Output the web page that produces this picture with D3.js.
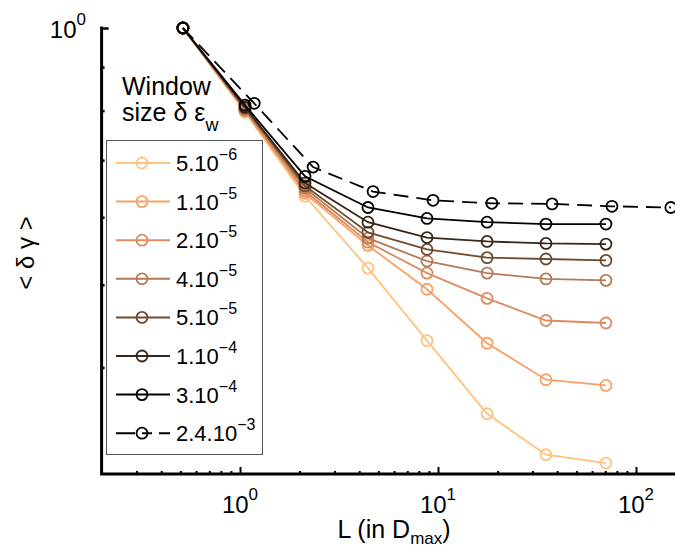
<!DOCTYPE html>
<html><head><meta charset="utf-8">
<script src="https://cdn.jsdelivr.net/npm/d3@7"></script>
<style>body{margin:0;background:#fff;} svg{display:block;} text{font-family:"Liberation Sans",Arial,sans-serif;fill:#000;}</style>
</head><body>
<svg id="c" width="675" height="548"></svg>
<script>
// ---- data ----
const xSolid = [0.515, 1.06, 2.13, 4.43, 8.8, 17.7, 35.1, 70.5];
const xDashed = [0.515, 1.18, 2.34, 4.70, 9.44, 18.7, 37.7, 75.6, 150];
const seriesNames = ["5.10|−6","1.10|−5","2.10|−5","4.10|−5","5.10|−5","1.10|−4","3.10|−4","2.4.10|−3"];
const seriesColors = ["#FEC27E","#F9A064","#DC8C5E","#B27A56","#6F4A30","#3A2618","#000000","#000000"];
const seriesDashed = [false,false,false,false,false,false,false,true];
const v5e6   = [1, 0.797, 0.635, 0.523, 0.430, 0.353, 0.316, 0.309];
const v1e5   = [1, 0.799, 0.640, 0.556, 0.494, 0.427, 0.387, 0.381];
const v2e5   = [1, 0.801, 0.644, 0.561, 0.516, 0.482, 0.454, 0.451];
const v4e5   = [1, 0.803, 0.649, 0.567, 0.533, 0.516, 0.508, 0.506];
const v5e5   = [1, 0.806, 0.653, 0.576, 0.550, 0.538, 0.536, 0.534];
const v1e4   = [1, 0.808, 0.658, 0.592, 0.568, 0.562, 0.559, 0.558];
const v3e4   = [1, 0.812, 0.670, 0.616, 0.598, 0.592, 0.589, 0.589];
const v24e3  = [1, 0.816, 0.687, 0.643, 0.628, 0.623, 0.622, 0.618, 0.616];
const seriesValues = [v5e6, v1e5, v2e5, v4e5, v5e5, v1e4, v3e4, v24e3];
const xMajorTicks = [1, 10, 100];
const xTickLabels = ["0","1","2"];
const yMinorTicks = [0.4,0.5,0.6,0.7,0.8,0.9];

// ---- scales ----
const svg = d3.select("#c");
const x = d3.scaleLog().domain([0.2, 200]).range([101.6, 695.6]);
const y = d3.scaleLog().domain([0.3, 1]).range([474, 28]);

// ---- axes (ticks inward) ----
const xMinor = [];
[0.1,1,10,100].forEach(d=>{for(let k=2;k<=9;k++){const v=d*k; if(v>0.2 && v<200 && v!==1 && v!==10 && v!==100) xMinor.push(v);}});
const gx = svg.append("g").attr("transform","translate(0,474)");
gx.call(d3.axisBottom(x).tickValues(xMinor).tickSize(-3).tickFormat(""));
gx.append("g").call(d3.axisBottom(x).tickValues(xMajorTicks).tickSize(-7).tickFormat(""));
gx.selectAll(".domain").remove();
gx.selectAll("line").attr("stroke","#000").attr("stroke-width",2);

const gy = svg.append("g").attr("transform","translate(101.6,0)");
gy.call(d3.axisLeft(y).tickValues(yMinorTicks).tickSize(-3).tickFormat(""));
gy.append("g").call(d3.axisLeft(y).tickValues([1]).tickSize(-7).tickFormat(""));
gy.selectAll(".domain").remove();
gy.selectAll("line").attr("stroke","#000").attr("stroke-width",2.5);

svg.append("path").attr("d",`M101.6,${y(1)-1.5}V${y(0.3)}H675`).attr("fill","none").attr("stroke","#000").attr("stroke-width",3);

// x tick labels
xMajorTicks.forEach((t,i)=>{
  const tx = svg.append("text").attr("x",x(t)).attr("y",513).attr("text-anchor","middle").style("font-size","24px");
  tx.append("tspan").text("10");
  tx.append("tspan").attr("dy",-13).style("font-size","17px").text(xTickLabels[i]);
});
// y tick label
{
  const ty = svg.append("text").attr("x",86).attr("y",38).attr("text-anchor","end").style("font-size","24px");
  ty.append("tspan").text("10");
  ty.append("tspan").attr("dy",-13).style("font-size","17px").text("0");
}
// axis titles
{
  const t = svg.append("text").attr("x",394).attr("y",538).attr("text-anchor","middle").style("font-size","25px");
  t.append("tspan").text("L (in D");
  t.append("tspan").attr("dy",6).style("font-size","17px").text("max");
  t.append("tspan").attr("dy",-6).text(")");
}
svg.append("text").attr("transform","translate(34,253) rotate(-90)").attr("text-anchor","middle").style("font-size","24px").text("< δ γ >");

// ---- series ----
const line = d3.line().x(d=>x(d[0])).y(d=>y(d[1]));
seriesValues.forEach((vals,i)=>{
  const xs = seriesDashed[i] ? xDashed : xSolid;
  const pts = vals.map((v,j)=>[xs[j], v]);
  const g = svg.append("g");
  g.append("path").attr("d",line(pts)).attr("fill","none").attr("stroke",seriesColors[i])
    .attr("stroke-width",1.8).attr("stroke-dasharray",seriesDashed[i]?"15,8":null);
  g.selectAll("circle").data(pts).join("circle").attr("cx",d=>x(d[0])).attr("cy",d=>y(d[1]))
    .attr("r",5.5).attr("fill","none").attr("stroke",seriesColors[i]).attr("stroke-width",1.8);
});

// ---- legend ----
{
  svg.append("text").attr("x",122).attr("y",95).style("font-size","25px").text("Window");
  const t2 = svg.append("text").attr("x",122).attr("y",121).style("font-size","25px");
  t2.append("tspan").text("size δ ε");
  t2.append("tspan").attr("dy",10).style("font-size","18px").text("w");
  svg.append("rect").attr("x",106.5).attr("y",140.5).attr("width",156).attr("height",314)
    .attr("fill","#fff").attr("stroke","#555").attr("stroke-width",1);
  seriesNames.forEach((nm,i)=>{
    const yy = 163 + i*38.6;
    const parts = nm.split("|");
    svg.append("line").attr("x1",116).attr("x2",170).attr("y1",yy).attr("y2",yy)
      .attr("stroke",seriesColors[i]).attr("stroke-width",2).attr("stroke-dasharray",seriesDashed[i]?"19,7,10,7":null);
    svg.append("circle").attr("cx",142).attr("cy",yy).attr("r",5.5).attr("fill","none")
      .attr("stroke",seriesColors[i]).attr("stroke-width",1.8);
    const tt = svg.append("text").attr("x",176).attr("y",yy+8).style("font-size","22px");
    tt.append("tspan").text(parts[0]);
    tt.append("tspan").attr("dy",-11).style("font-size","16px").text(parts[1]);
  });
}
</script>
</body></html>
